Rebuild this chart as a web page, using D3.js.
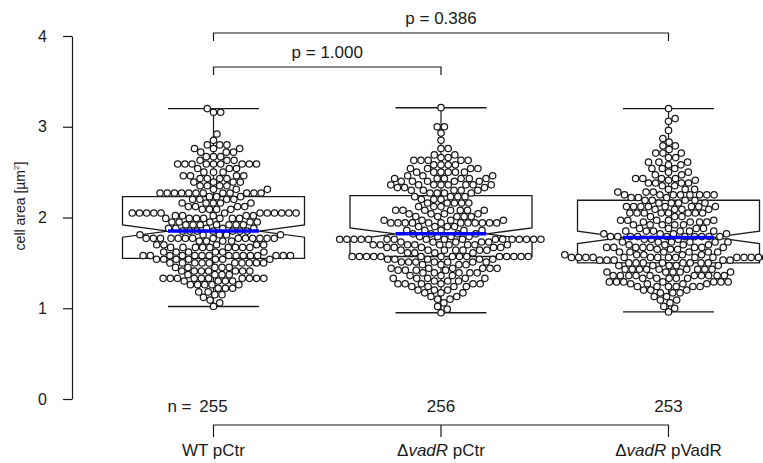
<!DOCTYPE html>
<html>
<head>
<meta charset="utf-8">
<script src="https://cdn.jsdelivr.net/npm/d3@7"></script>
<style>
  body { margin: 0; background: #fff; }
  svg { font-family: "Liberation Sans", Arial, sans-serif; }
</style>
</head>
<body>
<svg id="chart" width="763" height="463"></svg>
<script>
const width = 763;
const height = 463;

const groups = ["WT pCtr", "dvadR pCtr", "dvadR pVadR"];
const nCounts = [255, 256, 253];

// box statistics
const q1 = [1.55, 1.57, 1.50];
const medians = [1.85, 1.82, 1.78];
const q3 = [2.23, 2.24, 2.19];
const whiskLo = [1.02, 0.95, 0.96];
const whiskHi = [3.20, 3.21, 3.20];

// cell areas per group: value levels and how many cells sit on each
const wtLevels = [1.02, 1.06, 1.09, 1.12, 1.15, 1.18, 1.22, 1.26, 1.30, 1.33, 1.37, 1.41, 1.45, 1.50, 1.54,
  1.58, 1.62, 1.67, 1.70, 1.74, 1.77, 1.81, 1.85,
  1.88, 1.92, 1.95, 1.99, 2.02, 2.05, 2.09, 2.12, 2.16, 2.20,
  2.23, 2.27, 2.31, 2.35, 2.39, 2.43, 2.46, 2.50, 2.54, 2.59, 2.63, 2.67, 2.72, 2.76, 2.80, 2.85, 2.92, 3.16, 3.20];
const wtCounts = [1, 1, 1, 1, 2, 2, 3, 5, 4, 10, 4, 7, 5, 10, 7,
  15, 6, 9, 5, 4, 14, 5, 7,
  5, 7, 5, 7, 5, 12, 4, 4, 5, 4,
  3, 12, 3, 4, 4, 4, 4, 3, 3, 9, 3, 3, 3, 3, 3, 1, 1, 2, 1];

const ctrLevels = [0.95, 0.99, 1.02, 1.06, 1.10, 1.13, 1.17, 1.20, 1.24, 1.27, 1.30, 1.33, 1.36, 1.39, 1.42, 1.44, 1.48, 1.51, 1.54,
  1.57, 1.61, 1.64, 1.67, 1.70, 1.73, 1.76,
  1.79, 1.82, 1.86, 1.90, 1.94, 1.97, 2.01, 2.04, 2.08, 2.12, 2.16, 2.20,
  2.23, 2.27, 2.30, 2.33, 2.36, 2.40, 2.43, 2.46, 2.50, 2.54, 2.58, 2.63, 2.66, 2.69, 2.76, 2.85, 2.93, 3.00, 3.21];
const ctrCounts = [1, 1, 1, 1, 2, 2, 3, 3, 4, 6, 3, 5, 3, 5, 4, 6, 4, 7, 5,
  15, 4, 7, 5, 9, 5, 17,
  4, 4, 5, 4, 12, 4, 5, 4, 7, 3, 5, 3,
  4, 4, 5, 3, 8, 5, 6, 3, 6, 4, 4, 5, 2, 2, 2, 1, 1, 2, 1];

const vadLevels = [0.96, 1.00, 1.02, 1.06, 1.09, 1.13, 1.17, 1.20, 1.24, 1.27, 1.29, 1.33, 1.36, 1.40, 1.43, 1.47,
  1.50, 1.53, 1.56, 1.59, 1.62, 1.65, 1.67, 1.70, 1.73, 1.76, 1.79,
  1.82, 1.85, 1.88, 1.92, 1.95, 1.97, 2.01, 2.05, 2.09, 2.12, 2.16,
  2.19, 2.22, 2.25, 2.28, 2.31, 2.35, 2.38, 2.41, 2.43, 2.47, 2.50, 2.54, 2.58, 2.61, 2.66, 2.71, 2.75, 2.79, 2.83, 2.87, 2.96, 3.06, 3.09, 3.20];
const vadCounts = [1, 1, 1, 1, 2, 2, 3, 3, 6, 4, 7, 5, 10, 5, 9, 5,
  8, 5, 16, 5, 6, 3, 8, 4, 6, 3, 10,
  4, 6, 4, 5, 4, 5, 3, 8, 4, 8, 4,
  4, 3, 8, 3, 3, 2, 4, 2, 4, 2, 2, 3, 2, 3, 2, 3, 1, 2, 1, 1, 1, 1, 1, 1];

const yTicks = [0, 1, 2, 3, 4];

// p-value brackets: [from group, to group, label]
const comparisons = [[0, 2, "p = 0.386"], [0, 1, "p = 1.000"]];

const expand = (levels, counts) => levels.flatMap((v, i) => Array(counts[i]).fill(v));
const groupValues = [
  expand(wtLevels, wtCounts),
  expand(ctrLevels, ctrCounts),
  expand(vadLevels, vadCounts)
];

const svg = d3.select("#chart");
const ink = "#1a1a1a";
const fontSize = "17px";

const yScale = d3.scaleLinear().domain([0, 4]).range([399, 36]);
const xScale = d3.scalePoint().domain(d3.range(groups.length)).range([213.5, 668.5]);
const boxHalf = 91;
const diam = 7.2;

// beeswarm "swarm" placement, ascending order
function swarm(values) {
  const pts = values.slice().sort(d3.ascending).map(v => ({ v, y: yScale(v), x: 0 }));
  const placed = [];
  pts.forEach(p => {
    const near = placed.filter(q => Math.abs(q.y - p.y) < diam);
    const cands = [0];
    near.forEach(q => {
      const dx = Math.sqrt(diam * diam - (q.y - p.y) ** 2);
      cands.push(q.x + dx, q.x - dx);
    });
    cands.sort((a, b) => Math.abs(a) - Math.abs(b));
    for (const c of cands) {
      const ok = near.every(q => (c - q.x) ** 2 + (q.y - p.y) ** 2 >= diam * diam - 0.01);
      if (ok) { p.x = c; break; }
    }
    placed.push(p);
  });
  return pts;
}

// y axis
const yAxis = d3.axisLeft(yScale).tickValues(yTicks).tickFormat(d3.format("d"))
  .tickSize(9).tickSizeOuter(0).tickPadding(16);
const yg = svg.append("g")
  .attr("transform", "translate(72,0)")
  .call(yAxis);
yg.select(".domain").attr("stroke", ink).attr("stroke-width", 1.2);
yg.selectAll(".tick line").attr("stroke", ink).attr("stroke-width", 1.2);
yg.selectAll(".tick text")
  .attr("fill", ink)
  .attr("font-size", "16px")
  .attr("font-family", "'Liberation Sans', Arial, sans-serif");

svg.append("text")
  .attr("transform", "translate(25,206) rotate(-90)")
  .attr("text-anchor", "middle")
  .attr("fill", ink)
  .attr("font-size", "14px")
  .html('cell area [µm<tspan dy="-6" font-size="8px">2</tspan><tspan dy="6">]</tspan>');

groups.forEach((g, i) => {
  const cx = xScale(i);
  const notch = 1.58 * (q3[i] - q1[i]) / Math.sqrt(nCounts[i]);
  const layer = svg.append("g");

  // whiskers and staples
  layer.append("line")
    .attr("x1", cx).attr("x2", cx)
    .attr("y1", yScale(q3[i])).attr("y2", yScale(whiskHi[i]))
    .attr("stroke", ink).attr("stroke-width", 1.2);
  layer.append("line")
    .attr("x1", cx).attr("x2", cx)
    .attr("y1", yScale(q1[i])).attr("y2", yScale(whiskLo[i]))
    .attr("stroke", ink).attr("stroke-width", 1.2);
  [whiskHi[i], whiskLo[i]].forEach(w => {
    layer.append("line")
      .attr("x1", cx - boxHalf / 2).attr("x2", cx + boxHalf / 2)
      .attr("y1", yScale(w)).attr("y2", yScale(w))
      .attr("stroke", ink).attr("stroke-width", 1.4);
  });

  // notched box
  const pts = [
    [cx - boxHalf, q1[i]], [cx - boxHalf, medians[i] - notch], [cx - boxHalf / 2, medians[i]],
    [cx - boxHalf, medians[i] + notch], [cx - boxHalf, q3[i]], [cx + boxHalf, q3[i]],
    [cx + boxHalf, medians[i] + notch], [cx + boxHalf / 2, medians[i]], [cx + boxHalf, medians[i] - notch],
    [cx + boxHalf, q1[i]]
  ];
  layer.append("path")
    .attr("d", d3.line().x(d => d[0]).y(d => yScale(d[1]))(pts) + "Z")
    .attr("fill", "none")
    .attr("stroke", ink)
    .attr("stroke-width", 1.3);

  // points
  layer.selectAll("circle")
    .data(swarm(groupValues[i]))
    .enter()
    .append("circle")
    .attr("cx", d => cx + d.x)
    .attr("cy", d => d.y)
    .attr("r", 3.2)
    .attr("fill", "#fff")
    .attr("stroke", ink)
    .attr("stroke-width", 1.25);

  // median
  layer.append("line")
    .attr("x1", cx - boxHalf / 2).attr("x2", cx + boxHalf / 2)
    .attr("y1", yScale(medians[i])).attr("y2", yScale(medians[i]))
    .attr("stroke", "#0000ff").attr("stroke-width", 3.5);

  // n labels
  svg.append("text")
    .attr("x", cx).attr("y", 412)
    .attr("text-anchor", "middle")
    .attr("fill", ink)
    .attr("font-size", fontSize)
    .text(nCounts[i]);
});

svg.append("text")
  .attr("x", xScale(0) - 22).attr("y", 412)
  .attr("text-anchor", "end")
  .attr("fill", ink)
  .attr("font-size", fontSize)
  .text("n =");

// group bracket along the bottom
const bracketY = 425;
svg.append("path")
  .attr("d", `M${xScale(0)},${bracketY + 12}V${bracketY}H${xScale(2)}V${bracketY + 12}M${xScale(1)},${bracketY}V${bracketY + 12}`)
  .attr("fill", "none").attr("stroke", ink).attr("stroke-width", 1.2);

const labelParts = [
  [["WT pCtr", false]],
  [["\u0394", false], ["vadR", true], [" pCtr", false]],
  [["\u0394", false], ["vadR", true], [" pVadR", false]]
];
labelParts.forEach((parts, i) => {
  const t = svg.append("text")
    .attr("x", xScale(i)).attr("y", 456)
    .attr("text-anchor", "middle")
    .attr("fill", ink)
    .attr("font-size", fontSize);
  parts.forEach(([s, it]) => {
    t.append("tspan").text(s).attr("font-style", it ? "italic" : "normal");
  });
});

// significance brackets
const bracketTops = [33, 67];
comparisons.forEach(([a, b, label], k) => {
  const yb = bracketTops[k];
  svg.append("path")
    .attr("d", `M${xScale(a)},${yb + 8}V${yb}H${xScale(b)}V${yb + 8}`)
    .attr("fill", "none").attr("stroke", ink).attr("stroke-width", 1.2);
  svg.append("text")
    .attr("x", (xScale(a) + xScale(b)) / 2).attr("y", yb - 9)
    .attr("text-anchor", "middle")
    .attr("fill", ink)
    .attr("font-size", fontSize)
    .text(label);
});
</script>
</body>
</html>
